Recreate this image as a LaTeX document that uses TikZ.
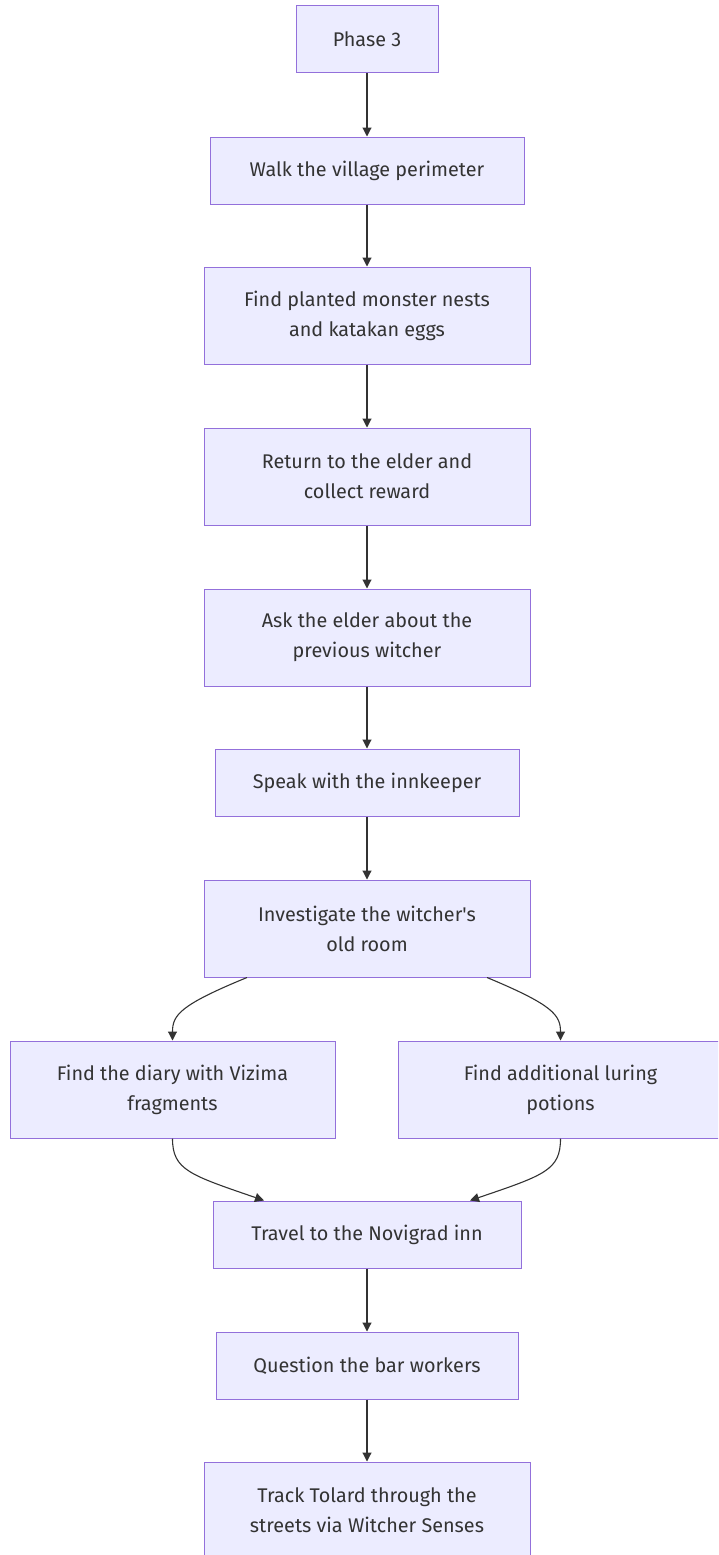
\documentclass[tikz,border=0pt]{standalone}
\usepackage{fontspec}
\setmainfont{Fira Sans}[Ligatures=TeXOff]
\usetikzlibrary{arrows.meta}
\definecolor{boxfill}{HTML}{ECECFF}
\definecolor{boxline}{HTML}{9370DB}
\definecolor{edge}{HTML}{333333}
\definecolor{txt}{HTML}{333333}
\tikzset{
  box/.style={draw=boxline, fill=boxfill, line width=1pt, inner sep=0pt, align=center,
    text=txt, font=\fontsize{19.8}{30}\selectfont},
  flow/.style={draw=edge, line width=1.1pt, -{Triangle[length=9pt,width=9pt]}}
}
\begin{document}
\begin{tikzpicture}[x=1pt,y=-1pt]
\useasboundingbox (0,0) rectangle (718,1555);
\begin{scope}
\clip (0,0) rectangle (718,1555);
\node[box, minimum width=142pt, minimum height=67pt] (n1) at (367,39.5) {Phase 3};
\node[box, minimum width=314pt, minimum height=67pt] (n2) at (367,170.5) {Walk the village perimeter};
\node[box, minimum width=326pt, minimum height=97pt] (n3) at (367,315.5) {Find planted monster nests\\and katakan eggs};
\node[box, minimum width=326pt, minimum height=97pt] (n4) at (367,476.5) {Return to the elder and\\collect reward};
\node[box, minimum width=326pt, minimum height=97pt] (n5) at (367,637.5) {Ask the elder about the\\previous witcher};
\node[box, minimum width=304pt, minimum height=67pt] (n6) at (367,782.5) {Speak with the innkeeper};
\node[box, minimum width=326pt, minimum height=97pt] (n7) at (367,928.5) {Investigate the witcher's\\old room};
\node[box, minimum width=325pt, minimum height=97pt] (n8) at (172.5,1089.5) {Find the diary with Vizima\\fragments};
\node[box, minimum width=325pt, minimum height=97pt] (n9) at (560.5,1089.5) {Find additional luring\\potions};
\node[box, minimum width=308pt, minimum height=67pt] (n10) at (367,1234.5) {Travel to the Novigrad inn};
\node[box, minimum width=302pt, minimum height=67pt] (n11) at (367,1365.5) {Question the bar workers};
\node[box, minimum width=326pt, minimum height=97pt] (n12) at (367,1510.5) {Track Tolard through the\\streets via Witcher Senses};

\draw[flow] (n1) -- (n2);
\draw[flow] (n2) -- (n3);
\draw[flow] (n3) -- (n4);
\draw[flow] (n4) -- (n5);
\draw[flow] (n5) -- (n6);
\draw[flow] (n6) -- (n7);
\draw[flow] (n10) -- (n11);
\draw[flow] (n11) -- (n12);
\draw[flow] ([xshift=-120pt]n7.south) .. controls (180,1005) and (172.5,1015) .. (n8.north);
\draw[flow] ([xshift=120pt]n7.south) .. controls (553,1005) and (560.5,1015) .. (n9.north);
\draw[flow] (n8.south) .. controls (172.5,1170) and (190,1175) .. ([xshift=-103pt]n10.north);
\draw[flow] (n9.south) .. controls (560.5,1170) and (545,1175) .. ([xshift=103pt]n10.north);
\end{scope}
\end{tikzpicture}
\end{document}
